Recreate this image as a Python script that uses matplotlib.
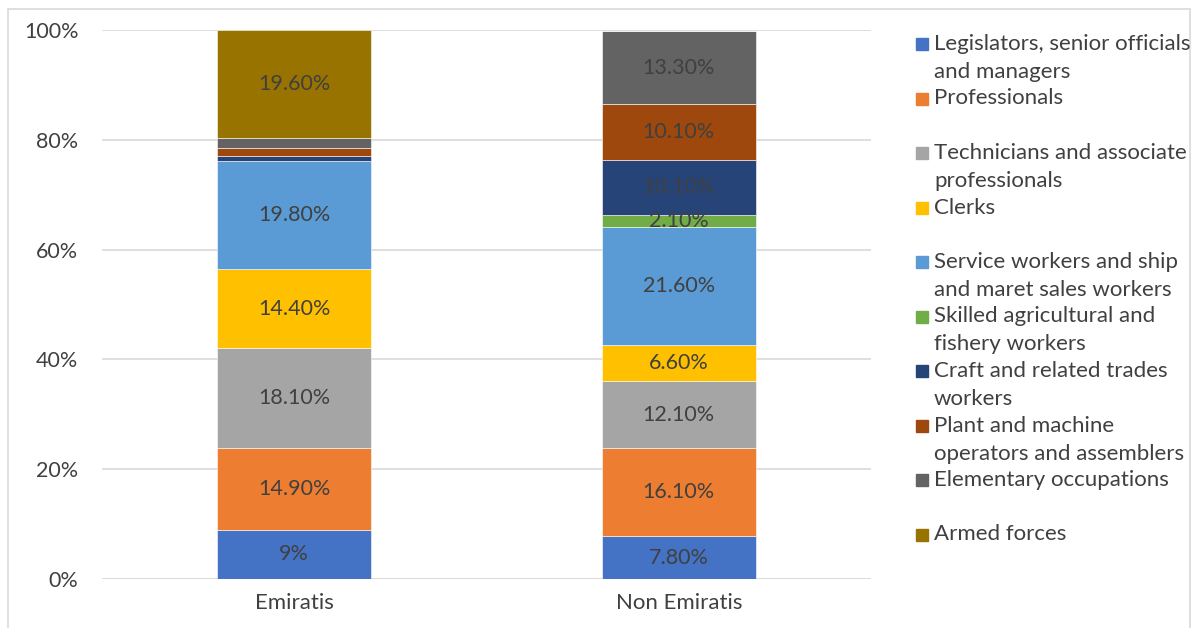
import numpy as np
import matplotlib.pyplot as plt
from matplotlib.patches import Rectangle

plt.rcParams['font.family'] = ['Lato', 'DejaVu Sans']

# ---- data ----
groups = ["Emiratis", "Non Emiratis"]
occupations = [
    "Legislators, senior officials\nand managers",
    "Professionals",
    "Technicians and associate\nprofessionals",
    "Clerks",
    "Service workers and ship\nand maret sales workers",
    "Skilled agricultural and\nfishery workers",
    "Craft and related trades\nworkers",
    "Plant and machine\noperators and assemblers",
    "Elementary occupations",
    "Armed forces",
]
emiratis = [9, 14.9, 18.1, 14.4, 19.8, 0.0, 0.9, 1.4, 1.9, 19.6]
non_emiratis = [7.8, 16.1, 12.1, 6.6, 21.6, 2.1, 10.1, 10.1, 13.3, 0.0]
colors = ["#4472C4", "#ED7D31", "#A5A5A5", "#FFC000", "#5B9BD5",
          "#70AD47", "#264478", "#9E480E", "#636363", "#997300"]

values = np.array([emiratis, non_emiratis]).T  # rows = occupations


def fmt(v):
    return f"{v:.0f}%" if v == round(v) else f"{v:.2f}%"


# ---- figure ----
fig = plt.figure(figsize=(11.95, 6.28), dpi=100)
ax = fig.add_axes([102 / 1195, 49 / 628, 769 / 1195, 549 / 628])

x = np.arange(len(groups))
bottom = np.zeros(len(groups))
for i, row in enumerate(values):
    ax.bar(x, row, bottom=bottom, width=0.4, color=colors[i],
           edgecolor="white", linewidth=0.4, zorder=3)
    for j, v in enumerate(row):
        if v >= 2:
            ax.text(x[j], bottom[j] + v / 2, fmt(v), ha="center", va="center",
                    fontsize=15.5, color="#404040", zorder=4)
    bottom += row

ax.set_xlim(-0.5, 1.5)
ax.set_ylim(0, 100)
ax.set_yticks(np.arange(0, 101, 20))
ax.set_yticklabels([f"{t}%" for t in range(0, 101, 20)])
ax.set_xticks(x)
ax.set_xticklabels(groups)
ax.tick_params(length=0, labelcolor="#404040")
ax.tick_params(axis="y", pad=17, labelsize=15.5)
ax.tick_params(axis="x", pad=10, labelsize=16)
ax.yaxis.grid(True, color="#D9D9D9", linewidth=1.2, zorder=0)
for s in ax.spines.values():
    s.set_visible(False)
ax.axhline(0, color="#D9D9D9", linewidth=1.2, zorder=1)

# ---- legend, one slot per occupation ----
slot = 54.5
for i, (lab, c) in enumerate(zip(occupations, colors)):
    ytop = 44 + i * slot
    fig.patches.append(Rectangle((916 / 1195, 1 - (ytop + 6) / 628), 12 / 1195, 12 / 628,
                                 transform=fig.transFigure, color=c))
    fig.text(934 / 1195, 1 - (ytop - 10) / 628, lab, ha="left", va="top",
             fontsize=16, color="#404040", linespacing=1.5)

# outer frame
fig.patches.append(Rectangle((8 / 1195, -0.01), 1182 / 1195, 1 - 9 / 628 + 0.01,
                             transform=fig.transFigure, fill=False,
                             edgecolor="#D9D9D9", linewidth=1.2))

fig.savefig("out.png", dpi=100)
